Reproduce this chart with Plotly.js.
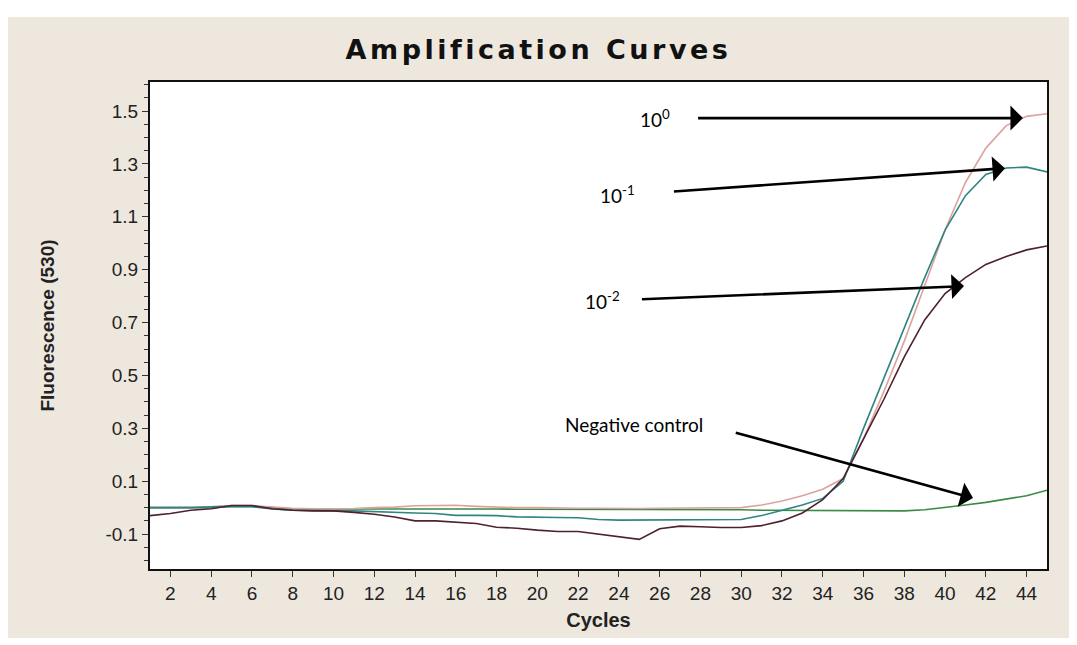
<!DOCTYPE html>
<html>
<head>
<meta charset="utf-8">
<script src="https://cdn.plot.ly/plotly-3.0.1.min.js"></script>
<style>
  html, body { margin: 0; padding: 0; background: #ffffff; }
  #chart { position: absolute; left: 8px; top: 17px; width: 1061px; height: 621px; }
</style>
</head>
<body>
<div id="chart"></div>
<script>
// ---- data ----
const cycles = [1,2,3,4,5,6,7,8,9,10,11,12,13,14,15,16,17,18,19,20,21,22,23,24,25,26,27,28,29,30,31,32,33,34,35,36,37,38,39,40,41,42,43,44,45];

const dil_1e0 = [0.000,0.000,0.000,0.003,0.008,0.008,0.002,-0.002,-0.004,-0.004,-0.003,0.000,0.002,0.007,0.008,0.009,0.005,0.002,0.000,0.000,-0.002,-0.002,-0.002,-0.003,-0.003,-0.002,-0.002,-0.002,-0.002,0.000,0.010,0.025,0.045,0.070,0.110,0.260,0.440,0.630,0.840,1.050,1.230,1.360,1.445,1.480,1.490];

const dil_1em1 = [0.000,0.000,0.000,0.003,0.005,0.004,-0.005,-0.010,-0.012,-0.012,-0.012,-0.015,-0.019,-0.020,-0.022,-0.029,-0.029,-0.030,-0.035,-0.037,-0.037,-0.038,-0.045,-0.047,-0.047,-0.047,-0.047,-0.047,-0.047,-0.045,-0.030,-0.010,0.010,0.035,0.100,0.300,0.490,0.680,0.870,1.050,1.180,1.260,1.285,1.288,1.270];

const dil_1em2 = [-0.030,-0.022,-0.010,-0.004,0.008,0.008,-0.004,-0.010,-0.012,-0.012,-0.018,-0.025,-0.035,-0.050,-0.050,-0.055,-0.060,-0.074,-0.078,-0.085,-0.090,-0.090,-0.100,-0.108,-0.120,-0.080,-0.070,-0.072,-0.075,-0.075,-0.068,-0.050,-0.020,0.030,0.110,0.260,0.410,0.570,0.710,0.810,0.870,0.920,0.950,0.975,0.990];

const negControl = [0.000,0.000,0.000,0.000,0.005,0.005,0.000,-0.005,-0.005,-0.005,-0.005,-0.005,-0.005,-0.003,-0.003,-0.004,-0.005,-0.005,-0.006,-0.006,-0.007,-0.007,-0.007,-0.008,-0.008,-0.008,-0.008,-0.008,-0.008,-0.008,-0.010,-0.010,-0.010,-0.010,-0.011,-0.012,-0.012,-0.012,-0.008,0.000,0.010,0.020,0.033,0.045,0.066];

const xTickVals = [2,4,6,8,10,12,14,16,18,20,22,24,26,28,30,32,34,36,38,40,42,44];
const yTickVals = [-0.1,0.1,0.3,0.5,0.7,0.9,1.1,1.3,1.5];
const yTickText = ['-0.1','0.1','0.3','0.5','0.7','0.9','1.1','1.3','1.5'];

const labels = ['10<sup>0</sup>','10<sup>-1</sup>','10<sup>-2</sup>','Negative control'];

// ---- traces ----
function tr(y, color, name) {
  return {x: cycles, y: y, type: 'scatter', mode: 'lines', name: name,
          line: {color: color, width: 1.6}, hoverinfo: 'x+y'};
}
const data = [
  tr(negControl, '#3b8a48', 'Negative control'),
  tr(dil_1e0, '#dba39e', '10^0'),
  tr(dil_1em1, '#2f8582', '10^-1'),
  tr(dil_1em2, '#4e2030', '10^-2')
];

const annFont = {family: 'Lato, "Open Sans", sans-serif', size: 19, color: '#000'};
// label text sits at the arrow tail (right-anchored), arrow runs to the tip
function callout(txt, tipX, tipY, tailX, tailY, gap) {
  return {x: tipX, y: tipY, ax: tailX, ay: tailY, xref: 'x', yref: 'y', axref: 'x', ayref: 'y',
          text: txt, font: annFont, xanchor: 'right', yanchor: 'middle',
          showarrow: true, arrowhead: 1, arrowsize: 1.6, arrowwidth: 2.6, arrowcolor: '#000',
          startstandoff: gap, standoff: 0};
}

const layout = {
  width: 1061, height: 621,
  paper_bgcolor: '#eee7de',
  plot_bgcolor: '#ffffff',
  showlegend: false,
  margin: {l: 142, r: 22, t: 65, b: 69},
  title: {
    text: '<b>Amplification Curves</b>',
    font: {family: '"DejaVu Sans", sans-serif', size: 27, color: '#111'},
    x: 0.5, xref: 'container', xanchor: 'center',
    y: 0.947, yref: 'container', yanchor: 'middle'
  },
  xaxis: {
    range: [1, 45],
    tickmode: 'array', tickvals: xTickVals,
    ticks: 'outside', ticklen: 6, tickwidth: 1, tickcolor: '#333',
    showgrid: false, zeroline: false,
    showline: true, linecolor: '#111', linewidth: 2, mirror: true,
    tickfont: {family: '"Liberation Sans", Arial, sans-serif', size: 19, color: '#222'},
    title: {text: '<b>Cycles</b>', font: {family: '"Liberation Sans", Arial, sans-serif', size: 20, color: '#222'}, standoff: 10}
  },
  yaxis: {
    range: [-0.232, 1.61],
    tickmode: 'array', tickvals: yTickVals, ticktext: yTickText,
    ticks: 'outside', ticklen: 6, tickwidth: 1, tickcolor: '#333',
    minor: {tickmode: 'linear', tick0: -0.1, dtick: 0.05, ticks: 'outside', ticklen: 4, tickcolor: '#333', showgrid: false},
    showgrid: false, zeroline: false,
    showline: true, linecolor: '#111', linewidth: 2, mirror: true,
    tickfont: {family: '"Liberation Sans", Arial, sans-serif', size: 19, color: '#222'},
    title: {text: '<b>Fluorescence (530)</b>', font: {family: '"Liberation Sans", Arial, sans-serif', size: 19, color: '#222'}, standoff: 46}
  },
  annotations: [
    callout(labels[0], 43.82, 1.4735, 26.61, 1.4735, 26),
    callout(labels[1], 42.94, 1.284, 24.89, 1.186, 37),
    callout(labels[2], 40.93, 0.838, 24.15, 0.785, 20),
    callout(labels[3], 41.37, 0.0363, 28.22, 0.316, 32)
  ]
};

Plotly.newPlot('chart', data, layout, {displayModeBar: false, staticPlot: true}).then(function () {
  const t = document.querySelector('#chart .gtitle');
  if (t) t.style.letterSpacing = '3.5px';
});
</script>
</body>
</html>
